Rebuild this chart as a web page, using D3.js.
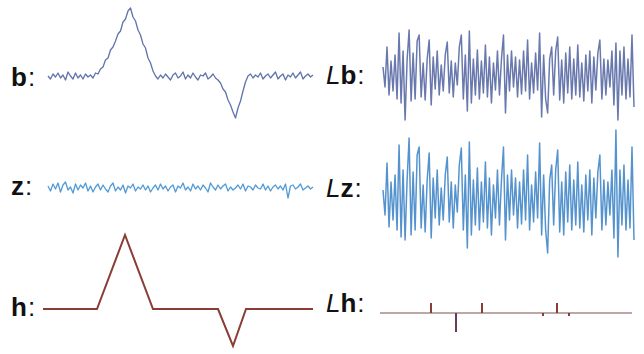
<!DOCTYPE html>
<html>
<head>
<meta charset="utf-8">
<script src="https://cdn.jsdelivr.net/npm/d3@7"></script>
<style>
  body { margin: 0; background: #fff; }
  svg { display: block; }
  .lbl { font-family: "Liberation Sans", Arial, sans-serif; font-size: 26px; fill: #111; }
</style>
</head>
<body>
<div id="chart"></div>
<script>
// signal h: knots (x in samples, y in amplitude)
const hX = [0, 54, 82, 110, 175, 190, 203, 270];
const hY = [0, 0, 74, 0, 0, -37, 0, 0];

const bVals = [1,-2,3,0,4,-1,2,-3,5,1,-2,4,-1,2,-2,3,0,2,-1,4,3,8,10,17,19,27,30,36,43,46,55,58,66,69,60,56,47,42,33,29,19,14,6,1,-2,2,-1,3,0,-3,2,4,-1,1,5,-2,2,-1,4,0,-3,2,1,4,-2,0,3,-1,-3,-6,-12,-15,-23,-28,-35,-41,-31,-24,-14,-5,1,3,-1,2,0,4,-2,1,3,-1,2,5,-2,1,3,-3,2,0,4,-1,2,5,-2,1,3,0,2];

// noise z
const zVals = [2,-3,4,-1,5,-4,3,6,-2,1,-5,4,-2,3,0,5,-3,2,-4,1,4,-2,3,-1,-4,2,5,-3,1,-2,3,-5,2,0,4,-3,1,-1,3,-2,2,-4,0,3,-2,4,-1,2,-3,1,3,-4,2,0,5,-2,1,-3,4,-1,2,-2,3,0,-4,5,1,-2,3,-1,2,4,-3,1,-2,0,3,-1,4,-3,2,1,-2,3,0,-1,4,-2,2,-3,1,3,-1,2,-2,4,-10,2,3,-1,1,4,-2,0,2,-1,1];

// L applied to b and z
const lbVals = [8,-12,28,-20,14,-16,20,-24,42,-28,24,-45,15,45,-26,22,-24,34,40,-22,12,-25,16,35,-30,18,-14,24,-20,10,-16,20,33,-18,14,-22,12,-10,28,40,-24,20,-36,44,-28,16,-20,25,-24,14,-18,30,-22,18,-28,12,-15,24,-20,16,40,-38,20,-16,24,-12,18,-22,15,-19,24,-16,35,-24,12,-18,22,-15,42,-42,20,-24,-38,16,28,-20,24,38,-25,15,-28,22,-18,28,-24,16,-20,30,-22,12,-26,20,-16,24,-28,18,-15,22,35,-24,16,-20,15,-12,24,-30,32,-45,24,-20,28,-24,16,-22,40,-32];
const lzVals = [10,-15,37,-27,18,-20,25,-30,55,-37,30,-40,20,62,-35,28,-30,45,53,-28,15,-32,20,47,-38,22,-18,30,-25,12,-20,25,43,-22,18,-28,15,-12,35,52,-30,25,-48,58,-35,20,-25,32,-30,18,-22,38,-28,22,-35,15,-18,30,-25,20,53,-40,25,-20,30,-15,22,-28,18,-24,30,-20,45,-30,15,-22,28,-18,57,-35,25,-30,-53,20,35,-25,30,50,-32,18,-35,28,-22,35,-30,20,-25,38,-28,15,-32,25,-20,30,-35,22,-18,28,45,-30,20,-25,18,-15,30,-38,70,-57,30,-25,35,-30,20,-28,53,-40];

// L applied to h: spikes at the kinks
const lhLen = 252;
const lhSpikeX = [51, 76, 102, 163, 177, 189];
const lhSpikeV = [10, -19, 10, -3, 10, -3];

const width = 644, height = 354;
const svg = d3.select('#chart').append('svg')
  .attr('width', width)
  .attr('height', height);

function drawSeries(vals, xr, y, color, w, op) {
  const x = d3.scaleLinear().domain([0, vals.length - 1]).range(xr);
  const line = d3.line().x((d, i) => x(i)).y(d => y(d));
  svg.append('path')
    .datum(vals)
    .attr('d', line)
    .attr('fill', 'none')
    .attr('stroke', color)
    .attr('stroke-width', w)
    .attr('stroke-opacity', op)
    .attr('stroke-linejoin', 'round');
}

// left column
const yB = d3.scaleLinear().domain([0, 70]).range([77, 7]);
drawSeries(bVals, [48, 313], yB, '#4f64a0', 1.3, 0.9);

const yZ = d3.scaleLinear().domain([0, 10]).range([188, 178]);
drawSeries(zVals, [48, 313], yZ, '#3f8fd2', 1.3, 0.9);

const xH = d3.scaleLinear().domain([0, 270]).range([43, 313]);
const yH = d3.scaleLinear().domain([0, 74]).range([309, 235]);
svg.append('path')
  .datum(hX.map((d, i) => [d, hY[i]]))
  .attr('d', d3.line().x(d => xH(d[0])).y(d => yH(d[1])))
  .attr('fill', 'none')
  .attr('stroke', '#8a3c35')
  .attr('stroke-width', 2);

// right column
const yLb = d3.scaleLinear().domain([0, 45]).range([75, 30]);
drawSeries(lbVals, [383, 634], yLb, '#43579a', 1.5, 0.8);

const yLz = d3.scaleLinear().domain([0, 60]).range([200, 140]);
drawSeries(lzVals, [383, 634], yLz, '#2a78c2', 1.5, 0.8);

const xLh = d3.scaleLinear().domain([0, lhLen]).range([380, 632]);
const yLh = d3.scaleLinear().domain([0, 10]).range([313, 303]);
svg.append('line')
  .attr('x1', xLh(0)).attr('x2', xLh(lhLen))
  .attr('y1', yLh(0)).attr('y2', yLh(0))
  .attr('stroke', '#a88a8a')
  .attr('stroke-width', 1.3);
svg.selectAll('line.spike')
  .data(lhSpikeX)
  .enter().append('line')
  .attr('class', 'spike')
  .attr('x1', d => xLh(d)).attr('x2', d => xLh(d))
  .attr('y1', yLh(0))
  .attr('y2', (d, i) => yLh(lhSpikeV[i]))
  .attr('stroke', (d, i) => lhSpikeV[i] < -10 ? '#6a3b5e' : '#8a3c35')
  .attr('stroke-width', 2);

// labels
const labels = [
  { L: false, c: 'b', x: 11, y: 86 },
  { L: false, c: 'z', x: 11, y: 195 },
  { L: false, c: 'h', x: 11, y: 316 },
  { L: true, c: 'b', x: 326, y: 84 },
  { L: true, c: 'z', x: 326, y: 197 },
  { L: true, c: 'h', x: 326, y: 312 }
];
labels.forEach(l => {
  const t = svg.append('text').attr('class', 'lbl').attr('x', l.x).attr('y', l.y);
  if (l.L) t.append('tspan').style('font-style', 'italic').text('L');
  t.append('tspan').style('font-weight', 'bold').text(l.c);
  t.append('tspan').attr('dx', 1).text(':');
});
</script>
</body>
</html>
